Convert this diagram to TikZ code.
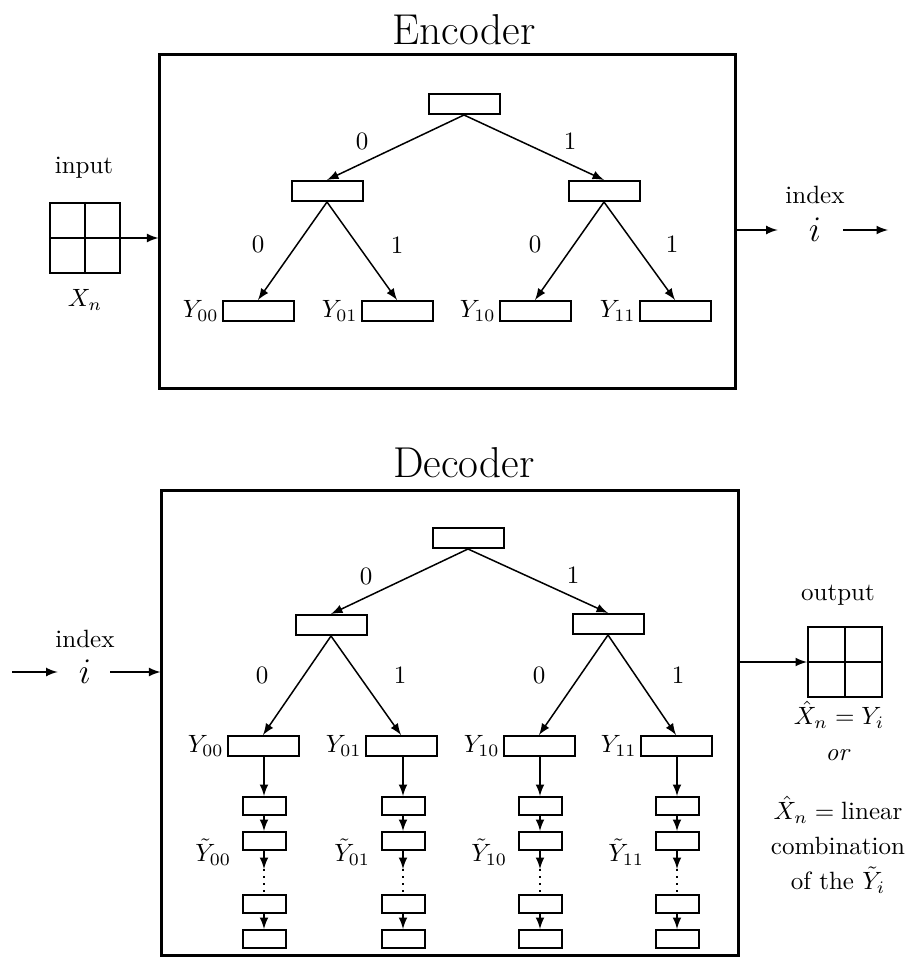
\documentclass[tikz,border=0pt]{standalone}
\usetikzlibrary{arrows.meta,positioning,calc}
\tikzset{>=latex}
\tikzset{
    frame/.style={draw,line width=1.2pt,inner sep=0pt},
    cell/.style={draw,line width=0.8pt,minimum width=28.4pt,minimum height=8pt,inner sep=0pt},
    smallcell/.style={draw,line width=0.8pt,minimum width=17.2pt,minimum height=7.2pt,inner sep=0pt},
    quad/.style={draw,line width=0.8pt,minimum width=28pt,minimum height=28pt,inner sep=0pt},
    branch/.style={->,line width=0.6pt},
    leaflabel/.style={anchor=east,inner sep=1pt},
}

\begin{document}
\begin{tikzpicture}[x=0.4pt,y=-0.4pt]
    \useasboundingbox (0,0) rectangle (915,966);

    % encoder
    \node[font=\LARGE] (enctitle) at (464,30) {Encoder};
    \node[frame,minimum width=230pt,minimum height=133.2pt] (enc) at (447.5,221.5) {};
    \node[cell] (eroot) at (464,104) {};
    \node[cell] (el0) at (327,191) {};
    \node[cell] (el1) at (604,191) {};
    \node[cell] (ey00) at (258,311) {};
    \node[cell] (ey01) at (397,311) {};
    \node[cell] (ey10) at (535,311) {};
    \node[cell] (ey11) at (675,311) {};
    \draw[branch] (eroot.south) -- (el0.north);
    \draw[branch] (eroot.south) -- (el1.north);
    \draw[branch] (el0.south) -- (ey00.north);
    \draw[branch] (el0.south) -- (ey01.north);
    \draw[branch] (el1.south) -- (ey10.north);
    \draw[branch] (el1.south) -- (ey11.north);
    \node (ebit0) at (362,141) {0};
    \node (ebit1) at (570,141) {1};
    \node (ebit00) at (258,244) {0};
    \node (ebit01) at (397,245) {1};
    \node (ebit10) at (535,244) {0};
    \node (ebit11) at (672,244) {1};
    \node[leaflabel] (eyl00) at (ey00.west) {$Y_{00}$};
    \node[leaflabel] (eyl01) at (ey01.west) {$Y_{01}$};
    \node[leaflabel] (eyl10) at (ey10.west) {$Y_{10}$};
    \node[leaflabel] (eyl11) at (ey11.west) {$Y_{11}$};

    % input and index out
    \node (inlabel) at (84,168) {input};
    \node[quad] (ingrid) at (85,238) {};
    \draw[line width=0.8pt] (ingrid.north) -- (ingrid.south) (ingrid.west) -- (ingrid.east);
    \node (xn) at (85,300) {$X_n$};
    \draw[branch] (ingrid.east) -- (ingrid.east -| enc.west);
    \node (eidx) at (815,195) {index};
    \node[font=\Large] (ei) at (815,230) {$i$};
    \coordinate (eout) at (888,230);
    \draw[branch,shorten >=9pt] (ei -| enc.east) -- (ei.west);
    \draw[branch,shorten <=5.4pt] (ei.east) -- (eout);

    % decoder
    \node[font=\LARGE] (dectitle) at (464,463) {Decoder};
    \node[frame,minimum width=230.4pt,minimum height=186pt] (dec) at (450,722.5) {};
    \node[cell] (droot) at (468,538) {};
    \node[cell] (dl0) at (331,625) {};
    \node[cell] (dl1) at (608,624) {};
    \node[cell] (dy00) at (263,746) {};
    \node[cell] (dy01) at (401,746) {};
    \node[cell] (dy10) at (539,746) {};
    \node[cell] (dy11) at (676,746) {};
    \draw[branch] (droot.south) -- (dl0.north);
    \draw[branch] (droot.south) -- (dl1.north);
    \draw[branch] (dl0.south) -- (dy00.north);
    \draw[branch] (dl0.south) -- (dy01.north);
    \draw[branch] (dl1.south) -- (dy10.north);
    \draw[branch] (dl1.south) -- (dy11.north);
    \node (dbit0) at (366,576) {0};
    \node (dbit1) at (573,575) {1};
    \node (dbit00) at (262,675) {0};
    \node (dbit01) at (400,675) {1};
    \node (dbit10) at (539,675) {0};
    \node (dbit11) at (678,675) {1};
    \node[leaflabel] (dyl00) at (dy00.west) {$Y_{00}$};
    \node[leaflabel] (dyl01) at (dy01.west) {$Y_{01}$};
    \node[leaflabel] (dyl10) at (dy10.west) {$Y_{10}$};
    \node[leaflabel] (dyl11) at (dy11.west) {$Y_{11}$};

    % chains under the leaves
    \foreach \c/\x in {00/264,01/403,10/540,11/677} {
        \node[smallcell] (cha\c) at (\x,806) {};
        \node[smallcell] (chb\c) at (\x,841) {};
        \node[smallcell] (chc\c) at (\x,904) {};
        \node[smallcell] (chd\c) at (\x,939) {};
        \coordinate (chdots\c) at (\x,869);
        \draw[branch] (dy\c.south -| cha\c) -- (cha\c.north);
        \draw[branch] (cha\c) -- (chb\c);
        \draw[branch] (chb\c.south) -- (chdots\c);
        \draw[dotted,line width=0.8pt] (chdots\c) -- (chc\c.north);
        \draw[branch] (chc\c) -- (chd\c);
        \node[anchor=east,inner sep=2pt] (tl\c) at ([xshift=-2pt,yshift=-4.5pt]chb\c.west) {$\tilde Y_{\c}$};
    }

    % index in and output
    \node (didx) at (85,639) {index};
    \node[font=\Large] (di) at (85,672) {$i$};
    \coordinate (din) at (12,672);
    \draw[branch,shorten >=5pt] (din) -- (di.west);
    \draw[branch,shorten <=4.2pt] (di.east) -- (di -| dec.west);
    \node (outlabel) at (838,595) {output};
    \node[quad,minimum width=29.6pt] (outgrid) at (845,662) {};
    \draw[line width=0.8pt] (outgrid.north) -- (outgrid.south) (outgrid.west) -- (outgrid.east);
    \draw[branch] (outgrid.west -| dec.east) -- (outgrid.west);
    \node[inner sep=1pt] (xhat) at (839,715) {$\hat X_n = Y_i$};
    \node (ortext) at (838,755) {\textit{or}};
    \node[align=center,inner sep=1pt] (lincomb) at (838,845) {$\hat X_n = {}$linear\\[2pt]combination\\[2pt]of the $\tilde Y_i$};
\end{tikzpicture}
\end{document}
